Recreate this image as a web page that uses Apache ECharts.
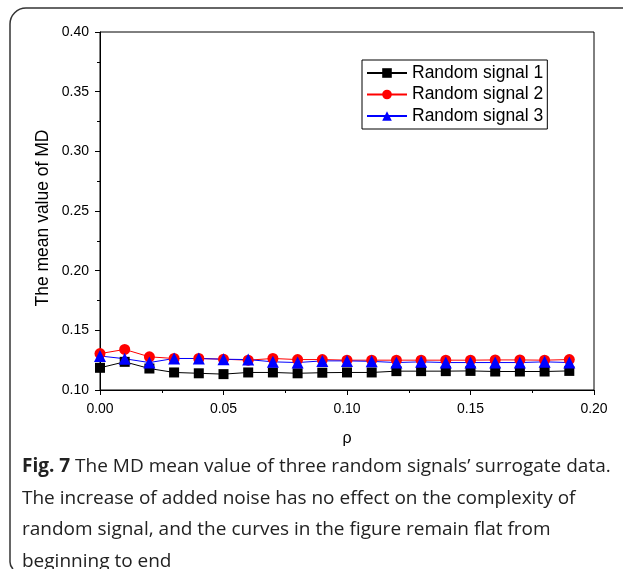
<!DOCTYPE html>
<html>
<head>
<meta charset="utf-8">
<script src="https://cdn.jsdelivr.net/npm/echarts@6/dist/echarts.min.js"></script>
<style>
  html, body { margin: 0; padding: 0; background: #fff; }
  #chart { width: 623px; height: 569px; }
</style>
</head>
<body>
<div id="chart"></div>
<script>
const rho = [0, 0.01, 0.02, 0.03, 0.04, 0.05, 0.06, 0.07, 0.08, 0.09,
  0.10, 0.11, 0.12, 0.13, 0.14, 0.15, 0.16, 0.17, 0.18, 0.19]
const signal1 = [0.1186, 0.1236, 0.118, 0.1147, 0.114, 0.1133, 0.1147, 0.1147, 0.114, 0.1145,
  0.1147, 0.1147, 0.1158, 0.1158, 0.1158, 0.116, 0.1155, 0.1155, 0.1155, 0.116]
const signal2 = [0.1305, 0.134, 0.1278, 0.1264, 0.1264, 0.1258, 0.125, 0.1264, 0.1255, 0.1255,
  0.125, 0.125, 0.125, 0.125, 0.125, 0.125, 0.1252, 0.1252, 0.125, 0.1255]
const signal3 = [0.1285, 0.1262, 0.123, 0.1264, 0.1264, 0.1258, 0.1255, 0.1236, 0.123, 0.1244,
  0.1244, 0.124, 0.123, 0.1236, 0.123, 0.123, 0.123, 0.123, 0.1236, 0.123]
const seriesNames = ['Random signal 1', 'Random signal 2', 'Random signal 3']
const yTitle = 'The mean value of MD'
const xTitle = 'ρ'
const captionBold = 'Fig. 7'
const captionLines = [
  ' The MD mean value of three random signals’ surrogate data.',
  'The increase of added noise has no effect on the complexity of',
  'random signal, and the curves in the figure remain flat from',
  'beginning to end'
]

const font = 'Arial, "Liberation Sans", sans-serif'
const capFont = '"Open Sans", "Noto Sans", sans-serif'

const pairs = (ys) => ys.map((y, i) => [rho[i], y])

const axisCommon = {
  axisLine: { show: true, lineStyle: { color: '#000', width: 1 } },
  axisTick: { show: true, inside: false, length: 5, lineStyle: { color: '#000' } },
  minorTick: { show: true, splitNumber: 2, length: 3, lineStyle: { color: '#000' } },
  splitLine: { show: false },
  minorSplitLine: { show: false },
  axisLabel: { color: '#000', fontSize: 14, fontFamily: font, formatter: (v) => v.toFixed(2) }
}

const frameStyle = { fill: null, stroke: '#333', lineWidth: 1.5 }

const chart = echarts.init(document.getElementById('chart'), null, { renderer: 'canvas' })

chart.setOption({
  backgroundColor: '#fff',
  animation: false,
  grid: {
    left: 100, right: 29, top: 32, bottom: 179,
    show: true, borderColor: '#000', borderWidth: 1
  },
  legend: {
    orient: 'vertical',
    left: 362, top: 60,
    data: seriesNames,
    borderColor: '#000', borderWidth: 1,
    padding: [4, 4, 4, 4],
    itemWidth: 40, itemHeight: 12, itemGap: 3.5,
    textStyle: { color: '#000', fontSize: 17.5, fontFamily: font }
  },
  xAxis: {
    type: 'value', min: 0, max: 0.2, interval: 0.05,
    name: xTitle, nameLocation: 'middle', nameGap: 41,
    nameTextStyle: { color: '#000', fontSize: 16, fontFamily: font },
    ...axisCommon,
    axisLabel: { ...axisCommon.axisLabel, margin: 12 }
  },
  yAxis: {
    type: 'value', min: 0.1, max: 0.4, interval: 0.05,
    ...axisCommon,
    axisLabel: { ...axisCommon.axisLabel, margin: 11 }
  },
  series: [
    {
      name: seriesNames[0], type: 'line', data: pairs(signal1),
      symbol: 'rect', symbolSize: 10,
      lineStyle: { color: '#000', width: 1 }, itemStyle: { color: '#000' }
    },
    {
      name: seriesNames[1], type: 'line', data: pairs(signal2),
      symbol: 'circle', symbolSize: 11,
      lineStyle: { color: '#ff0000', width: 1 }, itemStyle: { color: '#ff0000' }
    },
    {
      name: seriesNames[2], type: 'line', data: pairs(signal3),
      symbol: 'triangle', symbolSize: 12,
      lineStyle: { color: '#0000ff', width: 1 }, itemStyle: { color: '#0000ff' }
    }
  ],
  graphic: [
    { type: 'line', shape: { x1: 10, y1: 562, x2: 10, y2: 24 }, style: frameStyle },
    { type: 'arc', shape: { cx: 26, cy: 24, r: 16, startAngle: Math.PI, endAngle: Math.PI * 1.5 }, style: frameStyle },
    { type: 'line', shape: { x1: 26, y1: 8, x2: 623, y2: 8 }, style: frameStyle },
    { type: 'bezierCurve', shape: { x1: 10, y1: 562, cpx1: 10, cpy1: 566, x2: 13, y2: 569 }, style: frameStyle },
    {
      type: 'text', x: 43, y: 218, rotation: Math.PI / 2,
      style: {
        text: yTitle, fontSize: 17.5, fontFamily: font, fill: '#000',
        align: 'center', verticalAlign: 'middle'
      }
    },
    {
      type: 'text', left: 22, top: 457,
      style: {
        rich: {
          b: { fontWeight: 'bold', fontSize: 19, fontFamily: capFont, fill: '#222', lineHeight: 31.7 },
          n: { fontSize: 19, fontFamily: capFont, fill: '#222', lineHeight: 31.7 }
        },
        text: '{b|' + captionBold + '}{n|' + captionLines[0] + '}\n' +
          captionLines.slice(1).map((l) => '{n|' + l + '}').join('\n')
      }
    }
  ]
})
</script>
</body>
</html>
